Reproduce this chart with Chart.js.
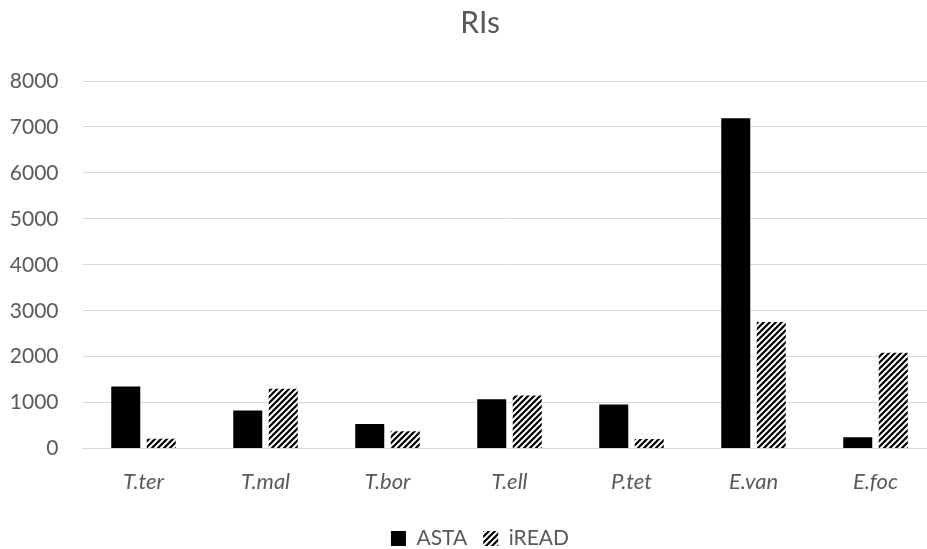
<!DOCTYPE html>
<html>
<head>
<meta charset="utf-8">
<script src="https://cdn.jsdelivr.net/npm/chart.js@4.4.1/dist/chart.umd.min.js"></script>
<style>
  html, body { margin: 0; padding: 0; background: #fff; overflow: hidden; }
  #wrap { width: 960px; height: 549px; }
</style>
</head>
<body>
<div id="wrap"><canvas id="c" width="960" height="549"></canvas></div>
<script>
const categories = ['T.ter', 'T.mal', 'T.bor', 'T.ell', 'P.tet', 'E.van', 'E.foc'];
const astaValues = [1350, 830, 535, 1075, 960, 7190, 245];
const ireadValues = [215, 1300, 375, 1155, 210, 2755, 2085];
const yTicks = [0, 1000, 2000, 3000, 4000, 5000, 6000, 7000, 8000];

function makeHatch() {
  const s = 6;
  const pc = document.createElement('canvas');
  pc.width = s; pc.height = s;
  const g = pc.getContext('2d');
  g.fillStyle = '#ffffff';
  g.fillRect(0, 0, s, s);
  g.strokeStyle = '#000000';
  g.lineWidth = 2.2;
  g.beginPath();
  g.moveTo(-1, s + 1); g.lineTo(s + 1, -1);
  g.moveTo(-s / 2 - 1, s / 2 + 1); g.lineTo(s / 2 + 1, -s / 2 - 1);
  g.moveTo(s / 2 - 1, s * 1.5 + 1); g.lineTo(s * 1.5 + 1, s / 2 - 1);
  g.stroke();
  return g.createPattern(pc, 'repeat');
}
const hatch = makeHatch();
const textColor = '#595959';
const fontFamily = 'Lato, "Open Sans", sans-serif';

new Chart(document.getElementById('c'), {
  type: 'bar',
  data: {
    labels: categories,
    datasets: [
      { label: 'ASTA', data: astaValues, backgroundColor: '#000000', borderWidth: 0,
        categoryPercentage: 0.582, barPercentage: 0.817 },
      { label: 'iREAD', data: ireadValues, backgroundColor: hatch, borderWidth: 0,
        categoryPercentage: 0.582, barPercentage: 0.817 }
    ]
  },
  options: {
    responsive: false,
    devicePixelRatio: 1,
    animation: false,
    layout: { padding: { left: 0, right: 0, top: 0, bottom: -10 } },
    plugins: {
      title: {
        display: true, text: 'RIs', color: textColor,
        font: { family: fontFamily, size: 30, weight: 'normal' },
        padding: { top: 5, bottom: 40 }
      },
      legend: {
        position: 'bottom',
        labels: {
          color: textColor,
          font: { family: fontFamily, size: 21 },
          boxWidth: 15, boxHeight: 15, padding: 16
        }
      },
      tooltip: { enabled: false }
    },
    scales: {
      x: {
        grid: { display: false, drawTicks: false },
        border: { display: true, color: '#d9d9d9', width: 1 },
        ticks: { color: textColor, font: { family: fontFamily, size: 22, style: 'italic' }, padding: 20 },
        afterFit: (s) => { s.height -= 3; }
      },
      y: {
        min: 0, max: 8000,
        afterBuildTicks: (s) => { s.ticks = yTicks.map(v => ({ value: v })); },
        afterFit: (s) => { s.width = 82.5; },
        grid: { color: '#d9d9d9', lineWidth: 1, drawTicks: false },
        border: { display: false },
        ticks: { color: textColor, font: { family: fontFamily, size: 21 }, padding: 24,
                 callback: (v) => String(v) }
      },
      yRight: {
        position: 'right',
        display: true,
        min: 0, max: 8000,
        grid: { display: false, drawTicks: false },
        border: { display: false },
        ticks: { display: false },
        afterFit: (s) => { s.width = 23.5; }
      }
    }
  }
});
</script>
</body>
</html>
